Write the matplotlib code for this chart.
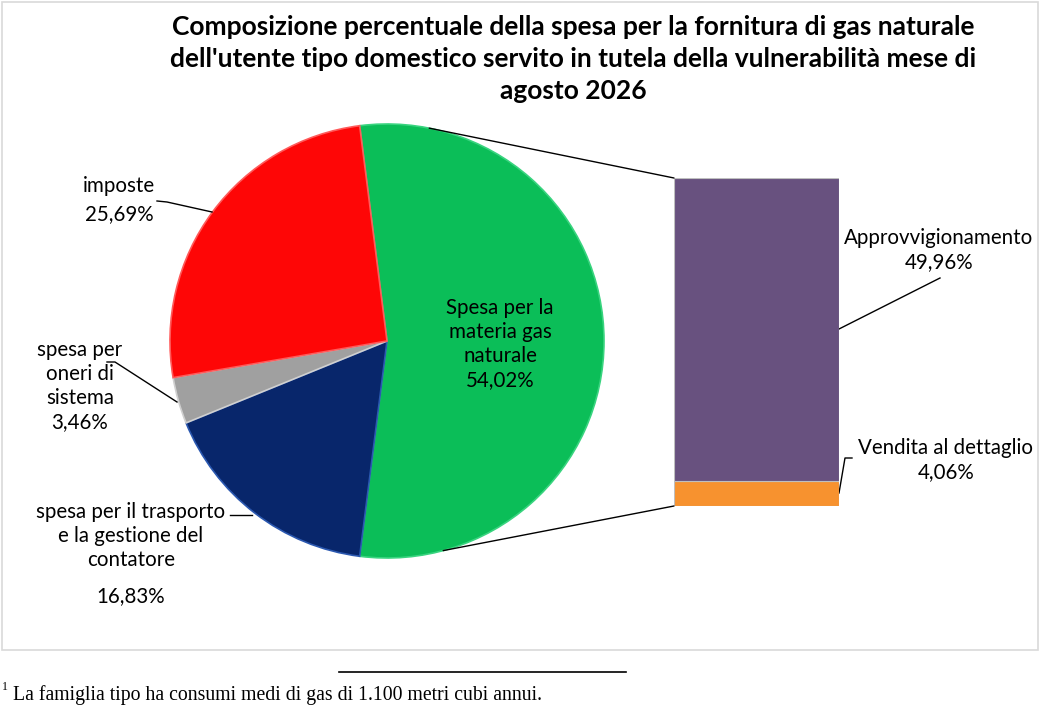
import matplotlib
matplotlib.use("Agg")
import matplotlib.pyplot as plt
from matplotlib.patches import Rectangle, ConnectionPatch
import numpy as np

# dati
pie_labels = ["Spesa per la\nmateria gas\nnaturale", "spesa per il trasporto\ne la gestione del\ncontatore",
              "spesa per\noneri di\nsistema", "imposte"]
pie_values = [54.02, 16.83, 3.46, 25.69]
pie_colors = ["#0BBE58", "#08266B", "#A0A0A0", "#FE0606"]
pie_edges = ["#39D47F", "#2B58B0", "#D0D0D0", "#FF5A5A"]

bar_labels = ["Approvvigionamento", "Vendita al dettaglio"]
bar_values = [49.96, 4.06]
bar_colors = ["#68517F", "#F7922F"]

title = ("Composizione percentuale della spesa per la fornitura di gas naturale\n"
         "dell'utente tipo domestico servito in tutela della vulnerabilità mese di\n"
         "agosto 2026")
footnote = "La famiglia tipo ha consumi medi di gas di 1.100 metri cubi annui."

W, H = 1042, 719
plt.rcParams['font.family'] = ['Lato', 'DejaVu Sans']


def fmt(v):
    return ("%.2f" % v).replace(".", ",") + "%"


def py(y):
    # pixel y (dall'alto) -> coordinate dati
    return H - y


fig = plt.figure(figsize=(W / 100, H / 100), dpi=100)
ax = fig.add_axes([0, 0, 1, 1])

# torta: la fetta verde centrata sull'asse orizzontale
start = pie_values[0] / 100 * 360 / 2
wedges, _ = ax.pie(pie_values, colors=pie_colors, startangle=start, counterclock=False,
                   center=(387, py(341)), radius=217, frame=True,
                   wedgeprops=dict(linewidth=1.2))
for w, ec in zip(wedges, pie_edges):
    w.set_edgecolor(ec)

ax.set_xlim(0, W)
ax.set_ylim(0, H)
ax.set_aspect("equal")
ax.axis("off")

# bordo del grafico
ax.add_patch(Rectangle((2, py(650)), 1036, 648, fill=False, edgecolor="#D9D9D9", linewidth=1.2))

# barra
axb = fig.add_axes([674 / W, py(506) / H, 165 / W, 328 / H])
bottom = 0
for v, c in zip(bar_values[::-1], bar_colors[::-1]):
    axb.bar(0, v, bottom=bottom, width=1, color=c, edgecolor="#BFBFBF", linewidth=0.8)
    bottom += v
axb.set_xlim(-0.5, 0.5)
axb.set_ylim(0, sum(bar_values))
axb.axis("off")

# linee di collegamento
c = np.array([387, py(341)])
for ang, yb in [(78.8, sum(bar_values)), (-75, 0)]:
    p = c + 217 * np.array([np.cos(np.radians(ang)), np.sin(np.radians(ang))])
    con = ConnectionPatch(xyA=tuple(p), coordsA=ax.transData, xyB=(-0.5, yb), coordsB=axb.transData,
                          color="black", linewidth=1)
    fig.add_artist(con)

# titolo
ax.text(573, py(59), title, ha="center", va="center", fontsize=19, fontweight="bold",
        linespacing=1.38)

fs = 14.8
ls = 1.25
# etichette torta
ax.text(500, py(344), pie_labels[0] + "\n" + fmt(pie_values[0]), ha="center", va="center",
        fontsize=fs, linespacing=ls)
ax.text(119, py(200), pie_labels[3] + "\n" + fmt(pie_values[3]), ha="center", va="center",
        fontsize=fs, linespacing=1.45)
ax.plot([157, 167, 212], [py(201), py(202), py(212)], color="black", linewidth=1)
ax.text(80, py(386), pie_labels[2] + "\n" + fmt(pie_values[2]), ha="center", va="center",
        fontsize=fs, linespacing=ls)
ax.plot([107, 115, 177], [py(362), py(362), py(402)], color="black", linewidth=1)
ax.text(131, py(536), pie_labels[1], ha="center", va="center", fontsize=fs, linespacing=ls)
ax.text(131, py(596), fmt(pie_values[1]), ha="center", va="center", fontsize=fs)
ax.plot([230, 252], [py(515), py(515)], color="black", linewidth=1)

# etichette barra
ax.text(939, py(250), bar_labels[0] + "\n" + fmt(bar_values[0]), ha="center", va="center",
        fontsize=fs, linespacing=ls)
ax.plot([940, 839], [py(278), py(329)], color="black", linewidth=1)
ax.text(946, py(460), bar_labels[1] + "\n" + fmt(bar_values[1]), ha="center", va="center",
        fontsize=fs, linespacing=ls)
ax.plot([852, 845, 839], [py(458), py(458), py(493)], color="black", linewidth=1)

# nota a piè di pagina
ax.plot([339, 626], [py(672), py(672)], color="black", linewidth=1.2)
ax.text(2, py(687), "1", fontsize=8.5, family="Liberation Serif", va="center")
ax.text(13, py(695), footnote, fontsize=14.2, family="Liberation Serif", va="center")

fig.savefig("out.png", dpi=100)
